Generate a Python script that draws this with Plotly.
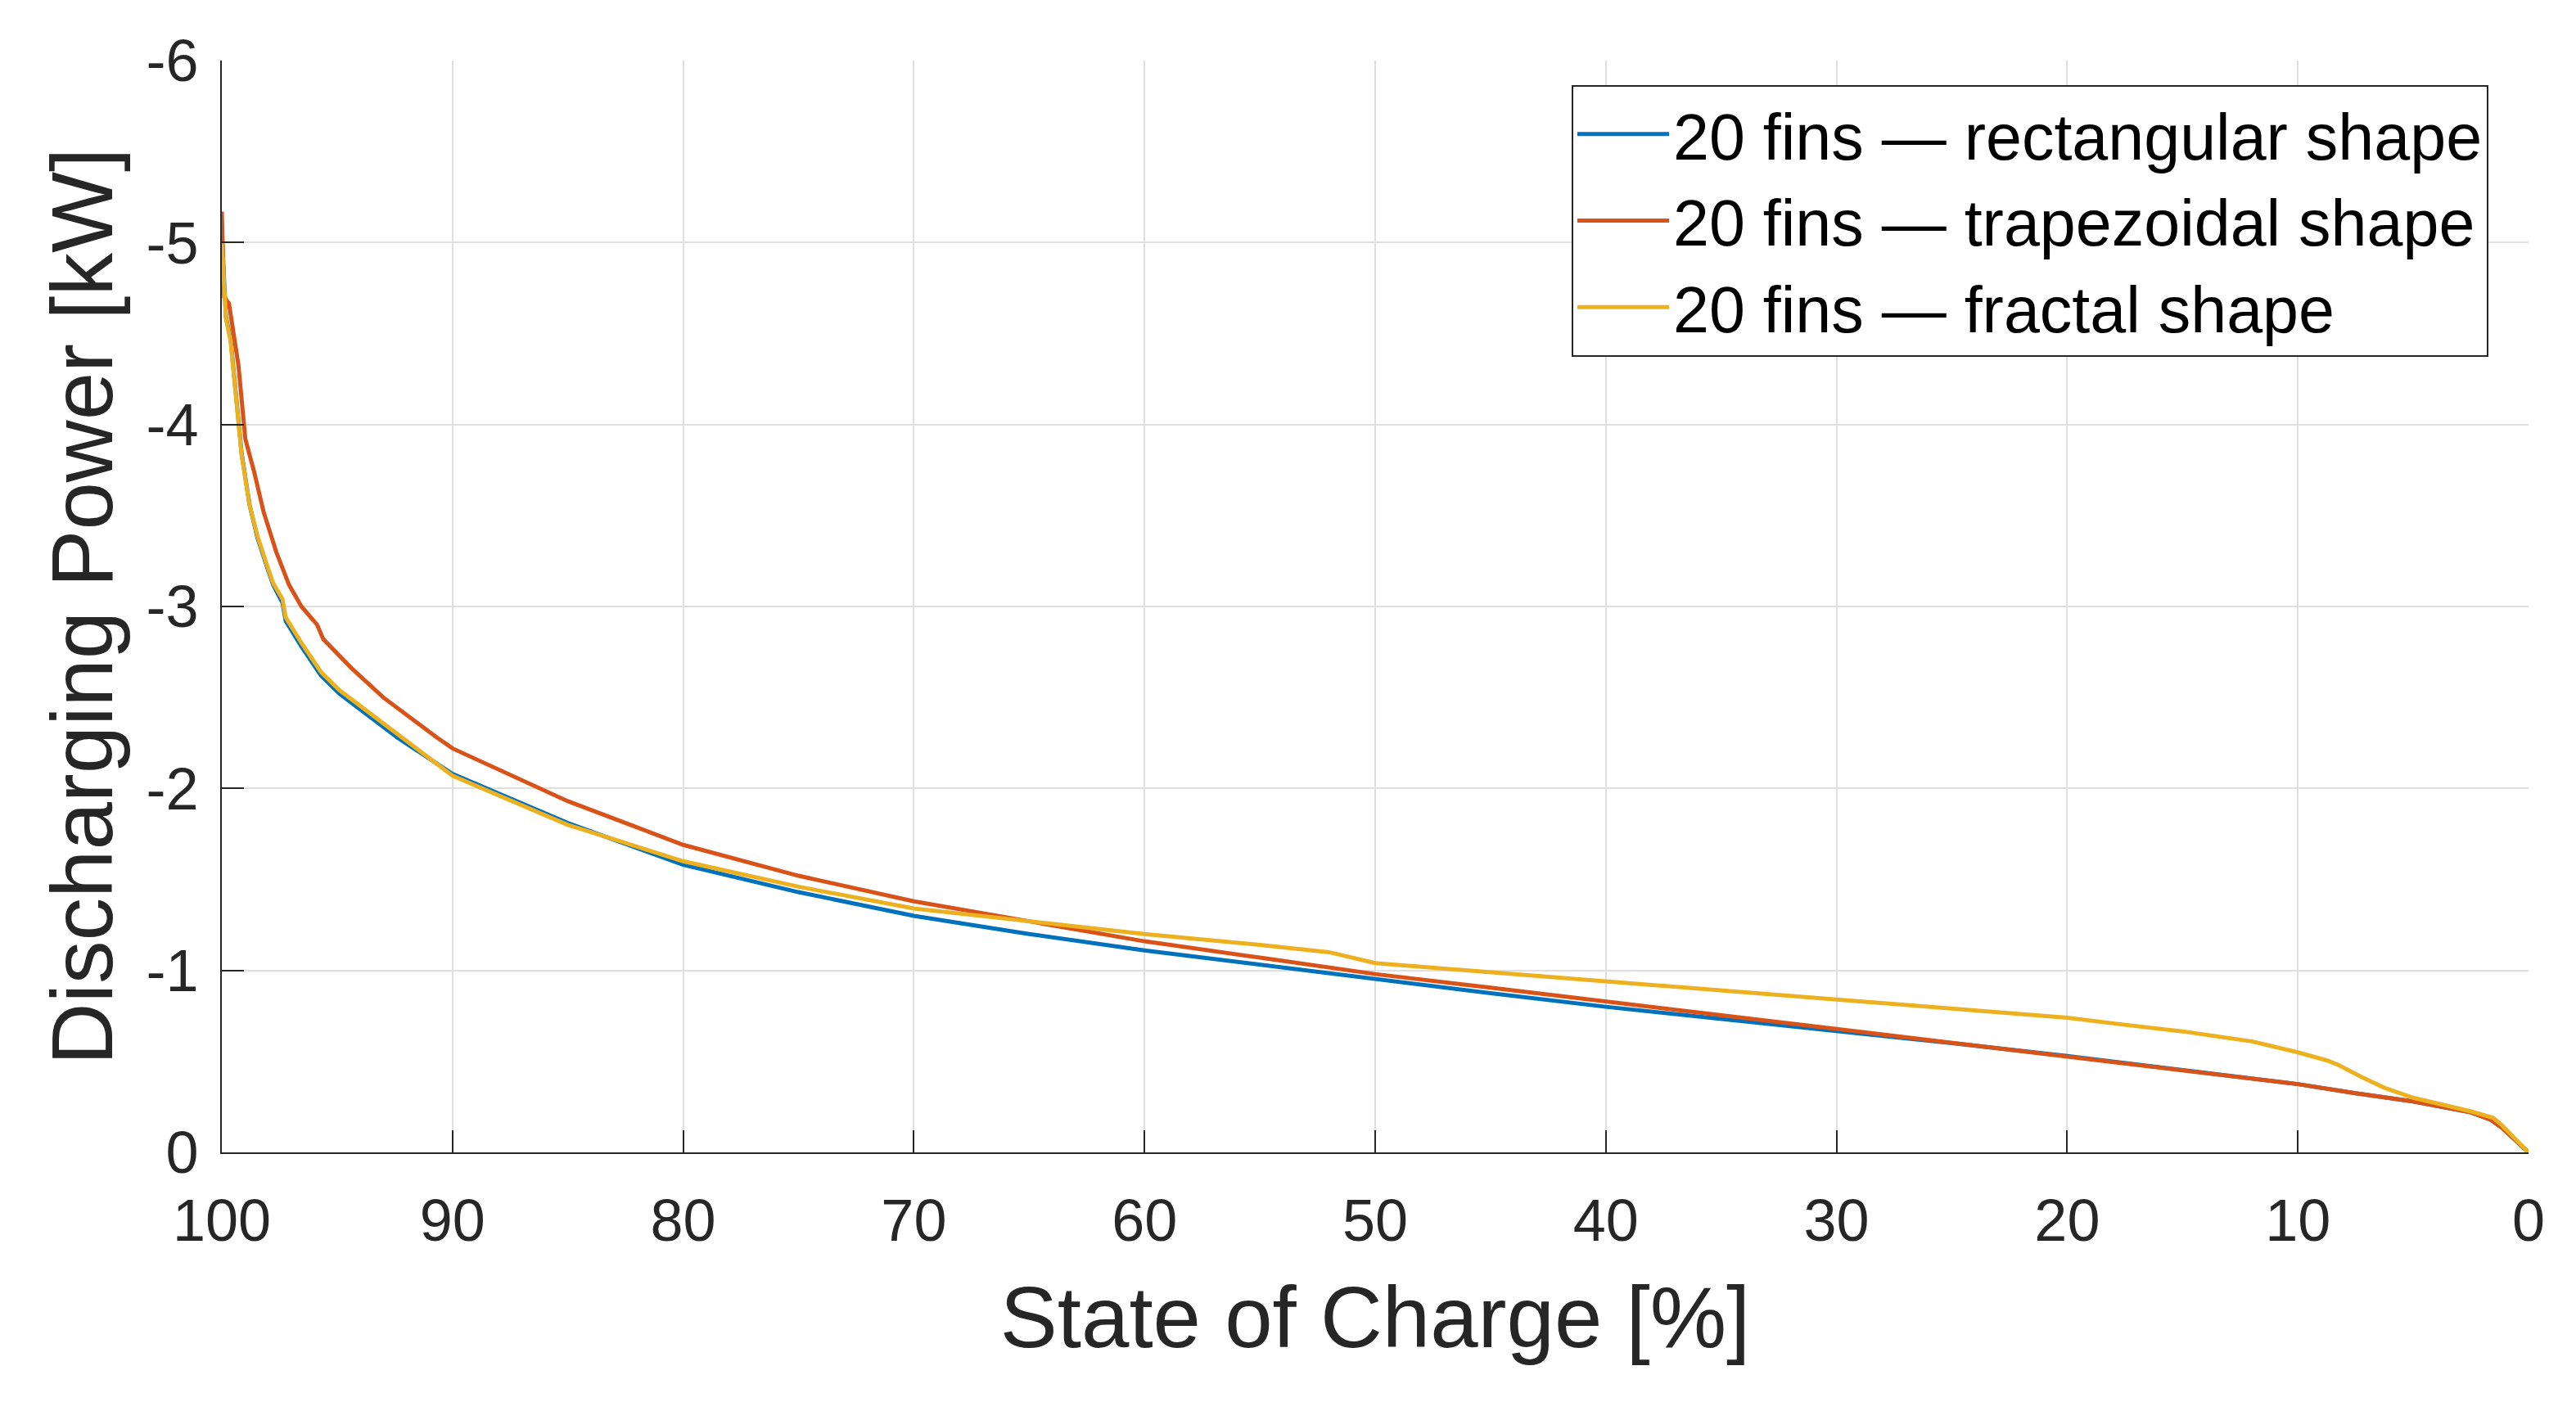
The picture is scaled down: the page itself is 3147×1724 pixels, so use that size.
import plotly.graph_objects as go

# ---- data ----
soc_rect = [100, 99.82, 99.62, 99.28, 99.14, 98.8, 98.46, 98.05, 97.78, 97.37, 97.23, 96.55, 95.7, 94.9,
            93.66, 92.4, 90, 85, 80, 75, 70, 65, 60, 55, 50, 45, 40, 35, 30, 25, 20, 15, 10, 7.5, 5,
            2.5, 1.65, 1.16, 0]
pow_rect = [-5.04, -4.59, -4.47, -4.03, -3.84, -3.56, -3.38, -3.22, -3.12, -3.02, -2.92, -2.78, -2.62,
            -2.52, -2.40, -2.28, -2.08, -1.81, -1.58, -1.43, -1.30, -1.20, -1.11, -1.03, -0.95, -0.875,
            -0.80, -0.735, -0.67, -0.60, -0.53, -0.455, -0.375, -0.325, -0.28, -0.22, -0.18, -0.136, 0]

soc_trap = [100, 99.9, 99.69, 99.28, 98.98, 98.6, 98.19, 97.64, 97.09, 96.55, 95.87, 95.6, 94.37, 93.0,
            90.68, 90, 85, 80, 75, 70, 65, 60, 55, 50, 45, 40, 35, 30, 25, 20, 15, 10, 7.5, 5, 2.5,
            1.65, 1.16, 0]
pow_trap = [-5.17, -4.70, -4.665, -4.325, -3.92, -3.74, -3.52, -3.30, -3.12, -3.00, -2.90, -2.82, -2.66,
            -2.50, -2.28, -2.22, -1.93, -1.69, -1.52, -1.38, -1.27, -1.16, -1.07, -0.98, -0.905, -0.83,
            -0.755, -0.68, -0.605, -0.53, -0.455, -0.375, -0.325, -0.28, -0.22, -0.18, -0.136, 0]

soc_frac = [100, 99.82, 99.62, 99.28, 99.14, 98.8, 98.46, 98.05, 97.78, 97.37, 97.23, 96.55, 95.7, 94.9,
            93.66, 92.4, 90, 85, 80, 75, 70, 65, 60, 55, 52, 50, 45, 40, 35, 30, 25, 20, 17.43, 15, 12,
            10, 8.73, 8.24, 7.25, 6.25, 5, 3.76, 2.52, 1.53, 1.16, 0]
pow_frac = [-5.00, -4.58, -4.46, -4.02, -3.83, -3.56, -3.39, -3.23, -3.13, -3.04, -2.94, -2.80, -2.64,
            -2.54, -2.42, -2.30, -2.07, -1.80, -1.60, -1.46, -1.34, -1.27, -1.20, -1.14, -1.10, -1.04,
            -0.99, -0.94, -0.89, -0.84, -0.79, -0.74, -0.70, -0.665, -0.61, -0.55, -0.505, -0.48, -0.415,
            -0.355, -0.30, -0.264, -0.226, -0.19, -0.15, 0]

names = ["20 fins \u2014 rectangular shape", "20 fins \u2014 trapezoidal shape", "20 fins \u2014 fractal shape"]
colors = ["#0072BD", "#D95319", "#EDB120"]

x_ticks = [100, 90, 80, 70, 60, 50, 40, 30, 20, 10, 0]
y_ticks = [-6, -5, -4, -3, -2, -1, 0]

FONT = "Liberation Sans, Arial, Helvetica, sans-serif"
DARK = "#262626"
GRID = "#dfdfdf"

fig = go.Figure()
for sx, py, nm, c in zip([soc_rect, soc_trap, soc_frac], [pow_rect, pow_trap, pow_frac], names, colors):
    fig.add_trace(go.Scatter(x=sx, y=py, mode="lines", name=nm,
                             line=dict(color=c, width=5)))

fig.update_layout(
    template="none",
    width=3147, height=1724,
    margin=dict(l=271, r=58, t=74, b=316, autoexpand=False),
    paper_bgcolor="white", plot_bgcolor="white",
    font=dict(family=FONT, color=DARK),
    showlegend=True,
    legend=dict(x=(1920 - 271) / 2818, y=(1408 - 104) / 1334, xanchor="left", yanchor="top",
                bgcolor="white", bordercolor=DARK, borderwidth=2,
                font=dict(family=FONT, size=79, color="black"),
                itemwidth=112, tracegroupgap=0),
)
fig.update_xaxes(
    automargin=False,
    range=[100, 0], tickvals=x_ticks, ticktext=[str(v) for v in x_ticks],
    showgrid=True, gridcolor=GRID, gridwidth=2, zeroline=False,
    showline=True, linecolor=DARK, linewidth=2,
    ticks="inside", ticklen=27, tickwidth=2, tickcolor=DARK,
    tickfont=dict(family=FONT, size=72, color=DARK), ticklabelstandoff=20,
    title=dict(text="State of Charge [%]", font=dict(family=FONT, size=105, color=DARK), standoff=42),
)
fig.update_yaxes(
    automargin=False,
    range=[0, -6], tickvals=y_ticks, ticktext=[str(v) for v in y_ticks],
    showgrid=True, gridcolor=GRID, gridwidth=2, zeroline=False,
    showline=True, linecolor=DARK, linewidth=2,
    ticks="inside", ticklen=27, tickwidth=2, tickcolor=DARK,
    tickfont=dict(family=FONT, size=72, color=DARK), ticklabelstandoff=12,
    title=dict(text="Discharging Power [kW]", font=dict(family=FONT, size=105, color=DARK), standoff=6),
)

fig.write_html("out.html", config={"displayModeBar": False},
               post_script="document.body.style.margin='0';")
